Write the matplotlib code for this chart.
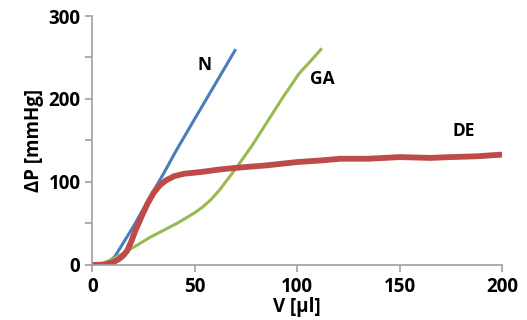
import matplotlib

matplotlib.use("Agg")
import matplotlib.pyplot as plt
from matplotlib.ticker import MultipleLocator

# curves (V in ul, dP in mmHg)
n_v = [0, 5, 8, 11, 15, 20, 28, 35, 41, 50, 60, 70]
n_p = [0, 1, 4, 10, 26, 46, 81, 111, 138, 176, 218, 260]

ga_v = [0, 5, 9, 13, 17, 22, 28, 35, 42, 46, 50, 54, 58, 62, 66, 70, 78, 85, 93, 101, 107, 112]
ga_p = [0, 2, 6, 11, 17, 24, 33, 42, 51, 57, 63, 70, 79, 90, 103, 116, 144, 171, 202, 231, 247, 261]

de_v = [0, 6, 10, 13, 15, 17, 19, 21, 24, 27, 30, 33, 36, 40, 45, 53, 62, 70, 85, 100, 112, 121, 135, 150, 165, 175, 188, 200]
de_p = [0, 0.5, 3, 7, 11, 17, 28, 41, 58, 74, 87, 96, 102, 107, 110, 112, 115, 117, 120, 124, 126, 128, 128, 130, 129, 130, 131, 133]

labels = ["N", "GA", "DE"]
label_pos = [(55, 241), (112, 224), (181, 162)]

plt.rcParams["font.family"] = ["Open Sans", "DejaVu Sans"]

fig = plt.figure(figsize=(5.27, 3.2), dpi=100)
ax = fig.add_axes([0.175, 0.172, 0.778, 0.778])

ax.plot(n_v, n_p, color="#4a7ebb", linewidth=2.2, solid_capstyle="butt")
ax.plot(ga_v, ga_p, color="#98b954", linewidth=2.2, solid_capstyle="butt",
        solid_joinstyle="round")
ax.plot(de_v, de_p, color="#be4b48", linewidth=4.2, solid_capstyle="butt",
        solid_joinstyle="round")

for text, (x, y) in zip(labels, label_pos):
    ax.text(x, y, text, fontsize=12.5, fontweight="bold", ha="center", va="center")

ax.set_xlim(0, 200)
ax.set_ylim(0, 300)
ax.xaxis.set_major_locator(MultipleLocator(50))
ax.yaxis.set_major_locator(MultipleLocator(100))
ax.yaxis.set_minor_locator(MultipleLocator(50))
for side in ("top", "right"):
    ax.spines[side].set_visible(False)
for side in ("left", "bottom"):
    ax.spines[side].set_color("#a0a0a0")
    ax.spines[side].set_linewidth(1.2)
ax.tick_params(which="both", direction="out", color="#a0a0a0", width=1.2, length=5)
ax.tick_params(labelsize=13.5)
for lab in ax.get_xticklabels() + ax.get_yticklabels():
    lab.set_fontweight("bold")

ax.set_xlabel("V [\u00b5l]", fontsize=13.5, fontweight="bold", labelpad=0)
ax.set_ylabel("\u0394P [mmHg]", fontsize=13.5, fontweight="bold", labelpad=3)

fig.savefig("out.png", dpi=100)
